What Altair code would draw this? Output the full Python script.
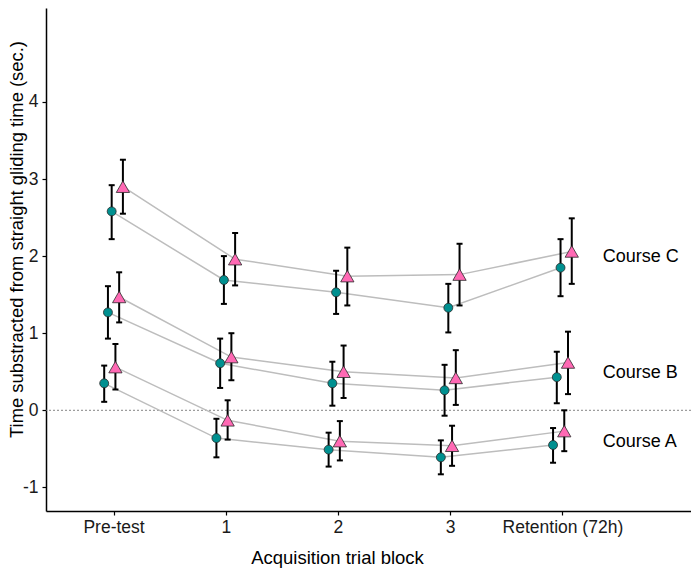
import altair as alt
import pandas as pd
import json

# ---- data ----
blocks = ["Pre-test", "1", "2", "3", "Retention (72h)"]
courses = ["Course A", "Course B", "Course C"]
series = ["Group 1", "Group 2"]  # circle, triangle

A_circle    = [0.35, -0.36, -0.51, -0.61, -0.45]
A_circle_lo = [0.11, -0.61, -0.73, -0.83, -0.68]
A_circle_hi = [0.58, -0.11, -0.29, -0.39, -0.23]
A_tri       = [0.56, -0.13, -0.40, -0.46, -0.27]
A_tri_lo    = [0.27, -0.38, -0.65, -0.72, -0.53]
A_tri_hi    = [0.86, 0.13, -0.14, -0.20, 0.00]

B_circle    = [1.27, 0.61, 0.35, 0.26, 0.43]
B_circle_lo = [0.93, 0.29, 0.06, -0.07, 0.09]
B_circle_hi = [1.61, 0.93, 0.63, 0.59, 0.76]
B_tri       = [1.47, 0.69, 0.50, 0.42, 0.62]
B_tri_lo    = [1.14, 0.39, 0.16, 0.07, 0.21]
B_tri_hi    = [1.79, 1.00, 0.84, 0.78, 1.02]

C_circle    = [2.58, 1.69, 1.53, 1.33, 1.85]
C_circle_lo = [2.22, 1.38, 1.25, 1.01, 1.48]
C_circle_hi = [2.92, 2.00, 1.81, 1.64, 2.22]
C_tri       = [2.90, 1.96, 1.74, 1.76, 2.06]
C_tri_lo    = [2.55, 1.62, 1.36, 1.36, 1.64]
C_tri_hi    = [3.25, 2.30, 2.11, 2.16, 2.49]

label_text = ["Course A", "Course B", "Course C"]
label_block = [4.36, 4.36, 4.36]
label_value = [-0.41, 0.48, 1.99]

# ---- build table ----
table = {
    ("Course A", "Group 1"): (A_circle, A_circle_lo, A_circle_hi),
    ("Course A", "Group 2"): (A_tri, A_tri_lo, A_tri_hi),
    ("Course B", "Group 1"): (B_circle, B_circle_lo, B_circle_hi),
    ("Course B", "Group 2"): (B_tri, B_tri_lo, B_tri_hi),
    ("Course C", "Group 1"): (C_circle, C_circle_lo, C_circle_hi),
    ("Course C", "Group 2"): (C_tri, C_tri_lo, C_tri_hi),
}
dodge_width = 0.2
n_groups = 6
rows = []
for (course, ser), (m, lo, hi) in table.items():
    k = series.index(ser) * 3 + courses.index(course)
    off = dodge_width * ((k + 0.5) / n_groups - 0.5)
    for i, b in enumerate(blocks):
        rows.append({"course": course, "series": ser, "group": course + ser,
                     "block": b, "xpos": i + off,
                     "mean": m[i], "lo": lo[i], "hi": hi[i]})
df = pd.DataFrame(rows)
labels_df = pd.DataFrame({"label": label_text, "xpos": label_block, "mean": label_value})

FONT = "Liberation Sans"
xscale = alt.Scale(domain=[-0.602, 5.146], nice=False, zero=False)
yscale = alt.Scale(domain=[-1.306, 5.218], nice=False, zero=False)

label_expr = json.dumps(blocks) + "[datum.value]"
x_axis = alt.Axis(values=list(range(len(blocks))), labelExpr=label_expr,
                  title="Acquisition trial block", grid=False,
                  tickSize=4, tickWidth=1.2, tickColor="black",
                  domainColor="black", domainWidth=1.5,
                  labelFontSize=17.5, labelColor="#1a1a1a", labelPadding=3,
                  titleFontSize=18.5, titleFontWeight="normal", titleColor="black",
                  titleX=291, titleY=52, titleBaseline="alphabetic")
y_axis = alt.Axis(values=[-1, 0, 1, 2, 3, 4], labelExpr="'' + datum.value",
                  title="Time substracted from straight gliding time (sec.)",
                  grid=False, tickSize=4, tickWidth=1.2, tickColor="black",
                  domainColor="black", domainWidth=1.5,
                  labelFontSize=17.5, labelColor="#1a1a1a", labelPadding=4,
                  titleFontSize=18.4, titleFontWeight="normal", titleColor="black",
                  titleAngle=270, titleX=-30, titleY=231, titleAlign="center",
                  titleBaseline="middle")

X = alt.X("xpos:Q", scale=xscale, axis=x_axis)
Ym = alt.Y("mean:Q", scale=yscale, axis=y_axis)

base = alt.Chart(df)

zero = alt.Chart(pd.DataFrame({"mean": [0]})).mark_rule(
    color="#777777", strokeWidth=0.9, strokeDash=[2, 2]
).encode(y=Ym)

lines = base.mark_line(color="#BDBDBD", strokeWidth=1.5).encode(
    x=X, y=Ym, detail="group:N", order="xpos:Q")

bars = base.mark_rule(color="black", strokeWidth=2).encode(
    x=X, y=alt.Y("lo:Q", scale=yscale, axis=y_axis), y2="hi:Q")
cap_lo = base.mark_tick(orient="horizontal", size=6, thickness=2, color="black", opacity=1).encode(
    x=X, y=alt.Y("lo:Q", scale=yscale, axis=y_axis))
cap_hi = base.mark_tick(orient="horizontal", size=6, thickness=2, color="black", opacity=1).encode(
    x=X, y=alt.Y("hi:Q", scale=yscale, axis=y_axis))

tri_path = "M0,-0.75L0.866,0.75L-0.866,0.75Z"
points = base.mark_point(filled=True, opacity=1, stroke="#2a2a2a", strokeWidth=0.8).encode(
    x=X, y=Ym,
    shape=alt.Shape("series:N", scale=alt.Scale(domain=series, range=["circle", tri_path]), legend=None),
    fill=alt.Fill("series:N", scale=alt.Scale(domain=series, range=["#009090", "#FF69B4"]), legend=None),
    size=alt.Size("series:N", scale=alt.Scale(domain=series, range=[80, 235]), legend=None),
)

texts = alt.Chart(labels_df).mark_text(align="left", baseline="middle", fontSize=18,
                                        font=FONT, color="black").encode(
    x=X, y=Ym, text="label:N")

chart = alt.layer(zero, lines, bars, cap_lo, cap_hi, points, texts).properties(
    width=645, height=503,
    autosize=alt.AutoSizeParams(type="none"),
    padding={"left": 38, "top": 0, "right": 0, "bottom": 58},
    background="white",
).configure_view(stroke=None).configure_axis(
    labelFont=FONT, titleFont=FONT
)

chart.save("out.html", embed_options={"renderer": "svg", "actions": False})
